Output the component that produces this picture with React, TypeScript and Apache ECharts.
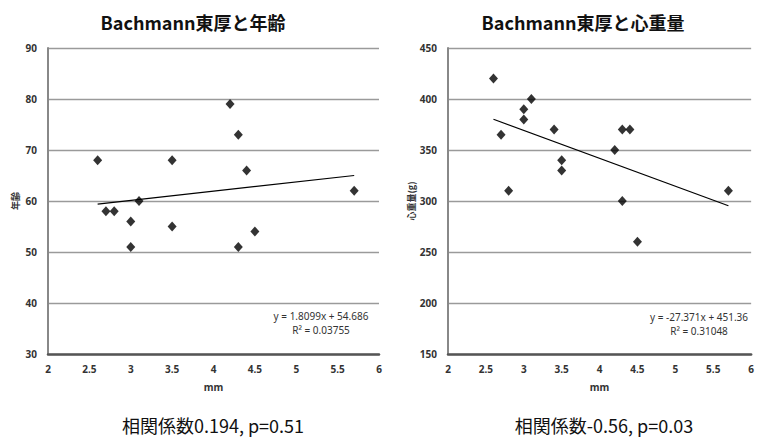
import React, { useEffect, useRef } from "react";
import * as echarts from "echarts";

// Left chart: Bachmann thickness (mm) vs age
const ageX = [2.6, 2.7, 2.8, 3.0, 3.0, 3.1, 3.5, 3.5, 4.2, 4.3, 4.4, 4.3, 4.5, 5.7];
const ageY = [68, 58, 58, 56, 51, 60, 68, 55, 79, 73, 66, 51, 54, 62];
const ageTrend = [[2.6, 59.39], [5.7, 65.0]];

// Right chart: Bachmann thickness (mm) vs heart weight (g)
const heartX = [2.6, 2.7, 2.8, 3.0, 3.0, 3.1, 3.4, 3.5, 3.5, 4.2, 4.3, 4.4, 4.3, 4.5, 5.7];
const heartY = [420, 365, 310, 390, 380, 400, 370, 340, 330, 350, 370, 370, 300, 260, 310];
const heartTrend = [[2.6, 380.2], [5.7, 295.3]];

const titles = ["Bachmann東厚と年齢", "Bachmann東厚と心重量"];
const yNames = ["年齢", "心重量(g)"];
const xName = "mm";
const equations = [
  ["y = 1.8099x + 54.686", "R² = 0.03755"],
  ["y = -27.371x + 451.36", "R² = 0.31048"],
];
const footers = ["相関係数0.194, p=0.51", "相関係数-0.56, p=0.03"];

const tickFont = {
  fontSize: 10,
  fontWeight: "bold" as const,
  color: "#333",
  fontFamily: "'Noto Sans', sans-serif",
};

function zip(xs: number[], ys: number[]) {
  return xs.map((x, i) => [x, ys[i]]);
}

export default function App() {
  const ref = useRef<HTMLDivElement>(null);
  useEffect(() => {
    if (!ref.current) return;
    const chart = echarts.init(ref.current, undefined, { renderer: "svg" });
    const xAxisBase = (gridIndex: number) => ({
      type: "value" as const,
      gridIndex,
      min: 2,
      max: 6,
      interval: 0.5,
      name: xName,
      nameLocation: "middle" as const,
      nameGap: 28,
      nameTextStyle: { ...tickFont },
      axisLine: { show: true, onZero: false, lineStyle: { color: "#555", width: 2.5 } },
      axisTick: { show: false },
      axisLabel: { ...tickFont, margin: 10 },
      splitLine: { show: false },
    });
    const yAxisBase = (gridIndex: number, min: number, max: number, interval: number, name: string) => ({
      type: "value" as const,
      gridIndex,
      min,
      max,
      interval,
      name,
      nameLocation: "middle" as const,
      nameRotate: 90,
      nameGap: 28,
      nameTextStyle: { ...tickFont, fontSize: 9, fontFamily: "'Noto Sans CJK JP', sans-serif" },
      axisLine: { show: true, onZero: false, lineStyle: { color: "#888", width: 2 } },
      axisTick: { show: false },
      axisLabel: { ...tickFont, margin: 11 },
      splitLine: { show: true, lineStyle: { color: "#9a9a9a", width: 1.3 } },
    });
    const scatterStyle = {
      type: "scatter" as const,
      symbol: "diamond",
      symbolSize: [9, 10],
      itemStyle: { color: "#000" },
    };
    const lineStyle = {
      type: "line" as const,
      symbol: "none",
      lineStyle: { color: "#000", width: 1.2 },
    };
    const eqText = (x: number, y: number, t: string) => ({
      type: "text" as const,
      x,
      y,
      style: {
        text: t,
        fill: "#333",
        font: "10px 'Noto Sans', sans-serif",
        textAlign: "center" as const,
        textVerticalAlign: "middle" as const,
      },
    });
    const bigText = (x: number, y: number, t: string, bold: boolean) => ({
      type: "text" as const,
      x,
      y,
      style: {
        text: t,
        fill: "#111",
        font: (bold ? "bold " : "") + "18px 'Noto Sans CJK JP', sans-serif",
        textAlign: "center" as const,
        textVerticalAlign: "middle" as const,
      },
    });
    chart.setOption({
      animation: false,
      grid: [
        { left: 48, top: 48, width: 331, height: 306 },
        { left: 448, top: 48, width: 313, height: 306 },
      ],
      xAxis: [xAxisBase(0), xAxisBase(1)],
      yAxis: [
        yAxisBase(0, 30, 90, 10, yNames[0]),
        yAxisBase(1, 150, 450, 50, yNames[1]),
      ],
      series: [
        { ...scatterStyle, xAxisIndex: 0, yAxisIndex: 0, data: zip(ageX, ageY), z: 3 },
        { ...lineStyle, xAxisIndex: 0, yAxisIndex: 0, data: ageTrend, z: 2 },
        { ...scatterStyle, xAxisIndex: 1, yAxisIndex: 1, data: zip(heartX, heartY), z: 3 },
        { ...lineStyle, xAxisIndex: 1, yAxisIndex: 1, data: heartTrend, z: 2 },
      ],
      graphic: [
        bigText(193, 22, titles[0], true),
        bigText(583, 22, titles[1], true),
        eqText(321, 316, equations[0][0]),
        eqText(321, 329.5, equations[0][1]),
        eqText(699, 317, equations[1][0]),
        eqText(699, 330.5, equations[1][1]),
        bigText(213, 425, footers[0], false),
        bigText(604, 425, footers[1], false),
      ],
    });
    return () => chart.dispose();
  }, []);
  return (
    <div
      ref={ref}
      style={{ position: "fixed", left: 0, top: 0, width: 757, height: 440, background: "#fff" }}
    />
  );
}
